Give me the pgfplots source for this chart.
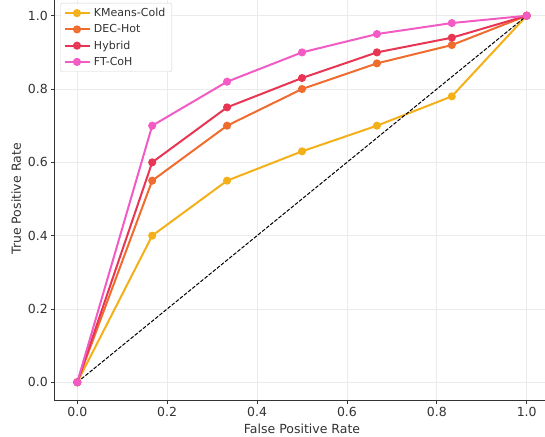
\documentclass[border=0pt]{standalone}
\usepackage{fontspec}
\setmainfont{DejaVu Sans}
\usepackage{pgfplots}
\pgfplotsset{compat=1.18}

\definecolor{txt}{HTML}{333333}
\definecolor{kmc}{HTML}{F4B019}
\definecolor{dec}{HTML}{EF6C2E}
\definecolor{hyb}{HTML}{E83553}
\definecolor{ftc}{HTML}{F25BC3}

\begin{document}
\begin{tikzpicture}
\begin{axis}[
    scale only axis,
    width=494.4pt, height=403.2pt,
    xmin=-0.05, xmax=1.05, ymin=-0.05, ymax=1.05,
    axis lines*=left,
    axis line style={draw=txt, line width=1pt},
    tick align=outside,
    major tick length=3.5pt,
    tick style={draw=txt, line width=0.8pt},
    xtick={0,0.2,0.4,0.6,0.8,1},
    ytick={0,0.2,0.4,0.6,0.8,1},
    xticklabels={0.0,0.2,0.4,0.6,0.8,1.0},
    yticklabels={0.0,0.2,0.4,0.6,0.8,1.0},
    ticklabel style={font=\fontsize{12.5}{15}\selectfont, text=txt},
    label style={font=\fontsize{12.5}{15}\selectfont, text=txt},
    xlabel={False Positive Rate},
    ylabel={True Positive Rate},
    grid=major,
    grid style={draw=black!8, line width=0.8pt},
    legend style={at={(0,1)}, anchor=north west, xshift=5.5pt, yshift=-5.6pt,
        draw=black!18, rounded corners=2pt, fill=white, fill opacity=0.85, text opacity=1,
        font=\fontsize{11}{13}\selectfont, text=txt, cells={anchor=west},
        row sep=2.5pt, inner xsep=3pt, inner ysep=3pt,
        nodes={inner xsep=3.5pt}},
    legend image code/.code={
        \draw[mark repeat=2, mark phase=2] plot coordinates {(0pt,0pt) (12.5pt,0pt) (25pt,0pt)};
    },
    every axis plot/.append style={line width=2pt, mark=*, mark size=3pt, mark options={solid}},
]
\addplot[color=kmc] coordinates {
    (0,0) (0.1667,0.40) (0.3333,0.55) (0.5,0.63) (0.6667,0.70) (0.8333,0.78) (1,1)
};
\addlegendentry{KMeans-Cold}
\addplot[color=dec] coordinates {
    (0,0) (0.1667,0.55) (0.3333,0.70) (0.5,0.80) (0.6667,0.87) (0.8333,0.92) (1,1)
};
\addlegendentry{DEC-Hot}
\addplot[color=hyb] coordinates {
    (0,0) (0.1667,0.60) (0.3333,0.75) (0.5,0.83) (0.6667,0.90) (0.8333,0.94) (1,1)
};
\addlegendentry{Hybrid}
\addplot[color=ftc] coordinates {
    (0,0) (0.1667,0.70) (0.3333,0.82) (0.5,0.90) (0.6667,0.95) (0.8333,0.98) (1,1)
};
\addlegendentry{FT-CoH}
\addplot[black, line width=1pt, mark=none, dash pattern=on 3.7pt off 1.6pt, forget plot] coordinates {
    (0,0) (1,1)
};
\end{axis}
\pgfresetboundingbox
\path[use as bounding box] ([shift={(-54.8pt,-35.4pt)}]current axis.south west) rectangle ++(545pt,436pt);
\end{tikzpicture}
\end{document}
